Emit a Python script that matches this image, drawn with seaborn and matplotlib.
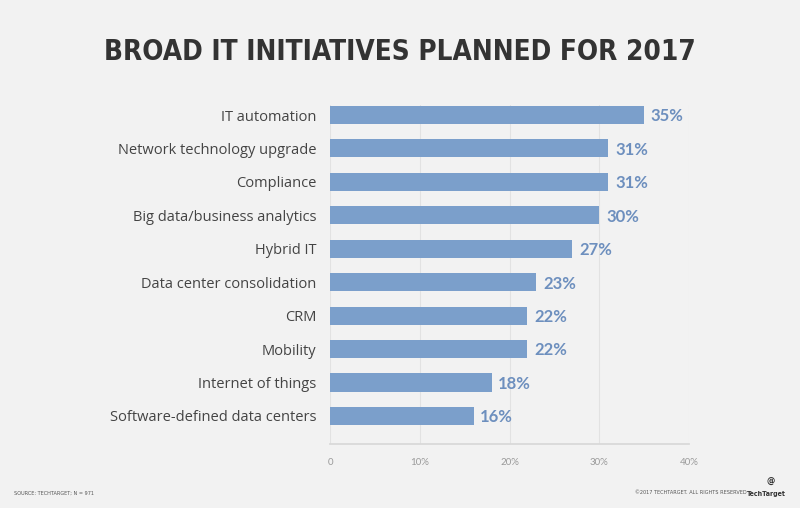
import matplotlib
matplotlib.use("Agg")
import matplotlib.pyplot as plt
import seaborn as sns
import pandas as pd
from matplotlib.ticker import FixedLocator, FixedFormatter

initiatives = [
    "IT automation",
    "Network technology upgrade",
    "Compliance",
    "Big data/business analytics",
    "Hybrid IT",
    "Data center consolidation",
    "CRM",
    "Mobility",
    "Internet of things",
    "Software-defined data centers",
]
percents = [35, 31, 31, 30, 27, 23, 22, 22, 18, 16]
x_ticks = [0, 10, 20, 30, 40]
x_tick_labels = ["0", "10%", "20%", "30%", "40%"]

bg = "#f2f2f2"
bar_color = "#7b9fcb"
value_color = "#6d8fbe"

sns.set_theme(style="white")
plt.rcParams["font.family"] = ["Lato", "DejaVu Sans"]

df = pd.DataFrame({"initiative": initiatives, "pct": percents})

fig = plt.figure(figsize=(8, 5.08), dpi=100, facecolor=bg)
ax = fig.add_axes([330 / 800, 1 - 444 / 508, 359 / 800, 339 / 508])
ax.set_facecolor(bg)

sns.barplot(data=df, x="pct", y="initiative", color=bar_color, width=0.54,
            saturation=1, linewidth=0, ax=ax)

ax.set_xlim(0, 40)
ax.set_ylim(9.84, -0.3)
ax.xaxis.set_major_locator(FixedLocator(x_ticks))
ax.xaxis.set_major_formatter(FixedFormatter(x_tick_labels))
ax.grid(axis="x", color="#e2e2e2", linewidth=0.8)
ax.set_axisbelow(True)
for side in ["top", "right", "left"]:
    ax.spines[side].set_visible(False)
ax.spines["bottom"].set_color("#d8d8d8")
ax.set_xlabel("")
ax.set_ylabel("")
ax.tick_params(axis="x", length=0, pad=10, labelsize=7, labelcolor="#9a9a9a")
ax.tick_params(axis="y", length=0, pad=10, labelsize=10.5, labelcolor="#444444")
for lbl in ax.get_yticklabels():
    lbl.set_family(["Open Sans", "DejaVu Sans"])

for i, v in enumerate(percents):
    ax.text(v + 0.75, i + 0.04, f"{v}%", va="center", ha="left", fontsize=12,
            fontweight="bold", color=value_color,
            family=["Lato", "DejaVu Sans"])

fig.text(0.5, 1 - 52 / 508, "BROAD IT INITIATIVES PLANNED FOR 2017",
         ha="center", va="center", fontsize=20, fontweight="bold",
         fontstretch="condensed", color="#333333", family=["DejaVu Sans"])
fig.text(14 / 800, 1 - 493 / 508, "SOURCE: TECHTARGET; N = 971", fontsize=4,
         fontstretch="condensed", color="#555555", va="center", ha="left",
         family=["DejaVu Sans"])
fig.text(747 / 800, 1 - 493 / 508, "\u00a92017 TECHTARGET. ALL RIGHTS RESERVED",
         fontsize=4, fontstretch="condensed", color="#555555", va="center",
         ha="right", family=["DejaVu Sans"])
fig.text(786 / 800, 1 - 494 / 508, "TechTarget", fontsize=5, fontweight="bold",
         fontstretch="condensed", color="#333333", va="center", ha="right",
         family=["DejaVu Sans"])
fig.text(771 / 800, 1 - 482 / 508, "@", fontsize=6, fontweight="bold",
         color="#333333", va="center", ha="center", family=["DejaVu Sans"])

fig.savefig("out.png", dpi=100, facecolor=bg)
